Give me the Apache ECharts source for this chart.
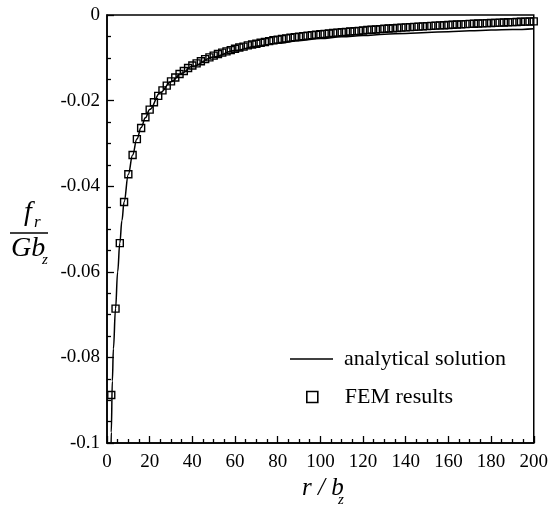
<!DOCTYPE html>
<html>
<head>
<meta charset="utf-8">
<script src="https://cdn.jsdelivr.net/npm/echarts@6/dist/echarts.min.js"></script>
<style>
html,body{margin:0;padding:0;background:#fff;}
#chart{width:551px;height:514px;}
</style>
</head>
<body>
<div id="chart"></div>
<script>
// ---- data ----
var xTickValues = [0, 20, 40, 60, 80, 100, 120, 140, 160, 180, 200];
var yTickValues = [0, -0.02, -0.04, -0.06, -0.08, -0.1];

var analyticalX = [1.85, 2, 2.5, 3, 4, 5, 6, 7, 8, 10, 12, 14, 16, 18, 20, 25, 30, 35, 40, 50,
  60, 70, 80, 90, 100, 110, 120, 130, 140, 150, 160, 170, 180, 190, 200];
var analyticalY = [-0.1035, -0.0975, -0.0855, -0.0780, -0.0686, -0.0600, -0.0533, -0.0480, -0.0437, -0.0372,
  -0.0327, -0.0290, -0.0263, -0.0240, -0.0221, -0.0181, -0.0156, -0.0136, -0.0120, -0.0098,
  -0.0083, -0.0073, -0.0066, -0.0060, -0.0055, -0.0051, -0.0048, -0.0045, -0.0043, -0.0041,
  -0.0039, -0.0037, -0.0035, -0.0034, -0.0032];

var femX = [2, 4, 6, 8, 10, 12, 14, 16, 18, 20, 22, 24, 26, 28, 30, 32, 34, 36, 38, 40,
  42, 44, 46, 48, 50, 52, 54, 56, 58, 60, 62, 64, 66, 68, 70, 72, 74, 76, 78, 80,
  82, 84, 86, 88, 90, 92, 94, 96, 98, 100, 102, 104, 106, 108, 110, 112, 114, 116, 118, 120,
  122, 124, 126, 128, 130, 132, 134, 136, 138, 140, 142, 144, 146, 148, 150, 152, 154, 156, 158, 160,
  162, 164, 166, 168, 170, 172, 174, 176, 178, 180, 182, 184, 186, 188, 190, 192, 194, 196, 198, 200];
var femY = [-0.0888, -0.0686, -0.0533, -0.0437, -0.0372, -0.0327, -0.0290, -0.0264, -0.0239, -0.0221,
  -0.0204, -0.0189, -0.0176, -0.0165, -0.0155, -0.0146, -0.0138, -0.0131, -0.0124, -0.0118,
  -0.0113, -0.0108, -0.0103, -0.0099, -0.0095, -0.0091, -0.0088, -0.0085, -0.0082, -0.0079,
  -0.0076, -0.0074, -0.0071, -0.0069, -0.0067, -0.0065, -0.0063, -0.0061, -0.0059, -0.00575,
  -0.00560, -0.00545, -0.00531, -0.00518, -0.00505, -0.00493, -0.00482, -0.00471, -0.00460, -0.00450,
  -0.00440, -0.00431, -0.00421, -0.00412, -0.00404, -0.00395, -0.00386, -0.00378, -0.00370, -0.00361,
  -0.00352, -0.00345, -0.00338, -0.00330, -0.00323, -0.00316, -0.00309, -0.00302, -0.00296, -0.00289,
  -0.00283, -0.00277, -0.00271, -0.00265, -0.00259, -0.00254, -0.00248, -0.00243, -0.00238, -0.00233,
  -0.00228, -0.00223, -0.00218, -0.00213, -0.00208, -0.00204, -0.00200, -0.00195, -0.00191, -0.00187,
  -0.00183, -0.00179, -0.00175, -0.00171, -0.00167, -0.00163, -0.00159, -0.00155, -0.00151, -0.00148];

var seriesNames = ['analytical solution', 'FEM results'];

// ---- build options ----
var lineData = analyticalX.map(function (x, i) { return [x, analyticalY[i]]; });
var femData = femX.map(function (x, i) { return [x, femY[i]]; });

var FONT = 'Liberation Serif, Times New Roman, serif';

var chart = echarts.init(document.getElementById('chart'), null, { renderer: 'canvas' });
chart.setOption({
  backgroundColor: '#fff',
  animation: false,
  grid: {
    left: 107, right: 14, top: 15, bottom: 71,
    show: true, borderColor: '#000', borderWidth: 1.5, backgroundColor: 'transparent'
  },
  xAxis: {
    type: 'value', min: xTickValues[0], max: xTickValues[xTickValues.length - 1], interval: 20,
    axisLine: { show: true, onZero: false, lineStyle: { color: '#000', width: 1.5 } },
    axisTick: { show: true, inside: true, length: 7, lineStyle: { color: '#000', width: 1.3 } },
    minorTick: { show: true, splitNumber: 4, length: 4, lineStyle: { color: '#000', width: 1.3 } },
    splitLine: { show: false },
    axisLabel: { color: '#000', fontFamily: FONT, fontSize: 19, margin: 10 }
  },
  yAxis: {
    type: 'value', min: yTickValues[yTickValues.length - 1], max: yTickValues[0], interval: 0.02,
    axisLine: { show: true, onZero: false, lineStyle: { color: '#000', width: 1.5 } },
    axisTick: { show: true, inside: true, length: 7, lineStyle: { color: '#000', width: 1.3 } },
    minorTick: { show: true, splitNumber: 4, length: 4, lineStyle: { color: '#000', width: 1.3 } },
    splitLine: { show: false },
    axisLabel: { color: '#000', fontFamily: FONT, fontSize: 19, margin: 7 }
  },
  legend: [
    {
      data: [{ name: seriesNames[0], icon: 'rect', itemStyle: { color: '#000', borderWidth: 0 } }],
      left: 285, top: 343, itemWidth: 43, itemHeight: 1.5,
      textStyle: { color: '#000', fontFamily: FONT, fontSize: 22, padding: [0, 0, 0, 6] },
      selectedMode: false
    },
    {
      data: [seriesNames[1]], left: 301, top: 381, itemWidth: 11, itemHeight: 11,
      textStyle: { color: '#000', fontFamily: FONT, fontSize: 22, padding: [0, 0, 0, 22] },
      itemStyle: { color: 'rgba(0,0,0,0)', borderColor: '#000', borderWidth: 1.6 },
      selectedMode: false
    }
  ],
  graphic: [
    { type: 'text', left: 24, top: 199, style: { text: 'f', font: 'italic 28px ' + FONT, fill: '#000' } },
    { type: 'text', left: 34, top: 214, style: { text: 'r', font: 'italic 17px ' + FONT, fill: '#000' } },
    { type: 'line', shape: { x1: 10, y1: 233, x2: 48, y2: 233 }, style: { stroke: '#000', lineWidth: 1.3 } },
    { type: 'text', left: 11, top: 235, style: { text: 'Gb', font: 'italic 28px ' + FONT, fill: '#000' } },
    { type: 'text', left: 42, top: 253, style: { text: 'z', font: 'italic 15px ' + FONT, fill: '#000' } },
    { type: 'text', left: 302, top: 476, style: { text: 'r / b', font: 'italic 25px ' + FONT, fill: '#000' } },
    { type: 'text', left: 338, top: 493, style: { text: 'z', font: 'italic 15px ' + FONT, fill: '#000' } }
  ],
  series: [
    {
      name: seriesNames[0], type: 'line', data: lineData, smooth: 0.4, smoothMonotone: 'x',
      symbol: 'none', clip: true,
      lineStyle: { color: '#000', width: 1.5 }, itemStyle: { color: '#000' }, z: 2
    },
    {
      name: seriesNames[1], type: 'scatter', data: femData, symbol: 'rect', symbolSize: 7,
      itemStyle: { color: 'rgba(0,0,0,0)', borderColor: '#000', borderWidth: 1.4, opacity: 1 }, z: 3,
      clip: false
    }
  ]
});
</script>
</body>
</html>
